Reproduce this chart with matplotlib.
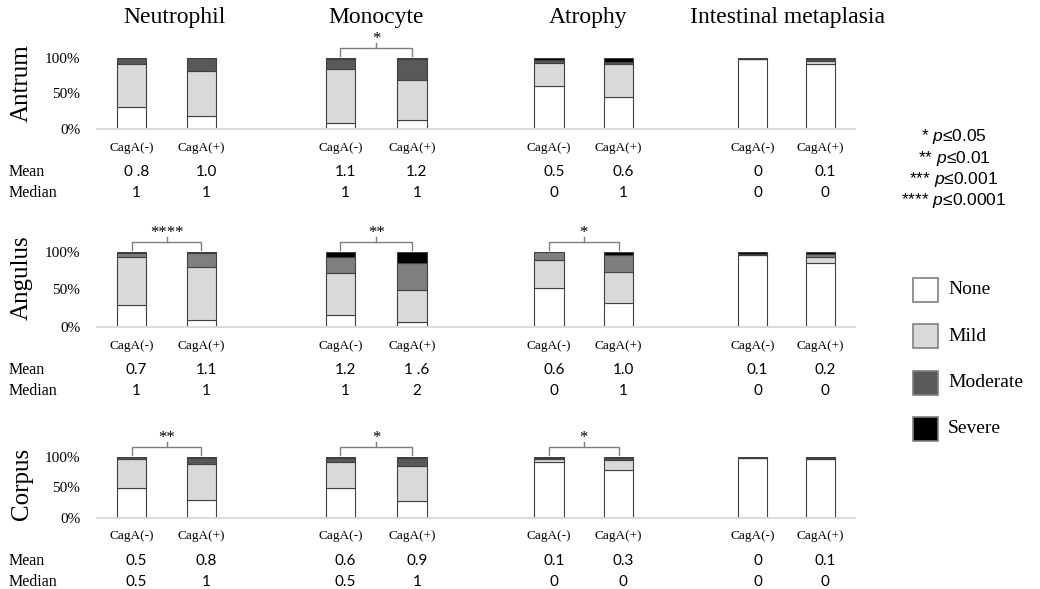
import matplotlib
matplotlib.use("Agg")
import matplotlib.pyplot as plt
import matplotlib.patches as mpatches
from matplotlib.transforms import blended_transform_factory, offset_copy

plt.rcParams["mathtext.fontset"] = "custom"
plt.rcParams["mathtext.it"] = "Liberation Sans:italic"
plt.rcParams["mathtext.rm"] = "Liberation Sans"

SERIF = "Liberation Serif"
NUM = "Lato"

columns = ["Neutrophil", "Monocyte", "Atrophy", "Intestinal metaplasia"]
groups = ["CagA(-)", "CagA(+)"]
rows = ["Antrum", "Angulus", "Corpus"]
grades = ["None", "Mild", "Moderate", "Severe"]

# percent of patients per grade, bars ordered column by column, CagA(-) then CagA(+)
antrum_none = [31, 19, 9, 13, 60, 45, 99, 92]
antrum_mild = [61, 63, 75, 56, 33, 47, 0, 4]
antrum_moderate = [8, 18, 14, 29, 4, 2, 0, 2]
antrum_severe = [0, 0, 2, 2, 3, 6, 1, 2]

angulus_none = [30, 10, 16, 7, 52, 32, 96, 86]
angulus_mild = [64, 70, 56, 42, 37, 42, 0, 7]
angulus_moderate = [5, 19, 22, 37, 11, 22, 1, 5]
angulus_severe = [1, 1, 6, 14, 0, 4, 3, 2]

corpus_none = [50, 30, 50, 28, 91, 78, 99, 96]
corpus_mild = [47, 58, 41, 58, 5, 17, 0, 1]
corpus_moderate = [3, 11, 7, 13, 3, 3, 0, 2]
corpus_severe = [0, 1, 2, 1, 1, 2, 1, 1]

antrum_mean = ["0 .8", "1.0", "1.1", "1.2", "0.5", "0.6", "0", "0.1"]
antrum_median = ["1", "1", "1", "1", "0", "1", "0", "0"]
angulus_mean = ["0.7", "1.1", "1.2", "1 .6", "0.6", "1.0", "0.1", "0.2"]
angulus_median = ["1", "1", "1", "2", "0", "1", "0", "0"]
corpus_mean = ["0.5", "0.8", "0.6", "0.9", "0.1", "0.3", "0", "0.1"]
corpus_median = ["0.5", "1", "0.5", "1", "0", "0", "0", "0"]

# significance per column index
antrum_sig = {1: "*"}
angulus_sig = {0: "****", 1: "**", 2: "*"}
corpus_sig = {0: "**", 1: "*", 2: "*"}

p_legend = ["* $p$≤0.05", "** $p$≤0.01", "*** $p$≤0.001", "**** $p$≤0.0001"]

row_data = [
    (antrum_none, antrum_mild, antrum_moderate, antrum_severe, antrum_mean, antrum_median, antrum_sig),
    (angulus_none, angulus_mild, angulus_moderate, angulus_severe, angulus_mean, angulus_median, angulus_sig),
    (corpus_none, corpus_mild, corpus_moderate, corpus_severe, corpus_mean, corpus_median, corpus_sig),
]

W, H = 1040, 589
fig = plt.figure(figsize=(W / 100, H / 100), dpi=100)

# axes boxes in pixels: (top of 100%, baseline)
row_px = [(58, 129), (252, 327), (457, 518)]
row_label_y = [83, 278, 484]
moderate_colors = ["#595959", "#7f7f7f", "#595959"]
positions = [0, 1, 3, 4.03, 6, 7, 8.93, 9.9]
width = 0.42
ax_left, ax_right = 97, 855

for r, (top, base) in enumerate(row_px):
    none, mild, moderate, severe, mean, median, sig = row_data[r]
    ax = fig.add_axes([ax_left / W, 1 - base / H, (ax_right - ax_left) / W, (base - top) / H])
    colors = ["white", "#d9d9d9", moderate_colors[r], "black"]
    bottom = [0] * len(none)
    for vals, c in zip([none, mild, moderate, severe], colors):
        ax.bar(positions, vals, width, bottom=bottom, color=c, edgecolor="#404040", linewidth=0.8)
        bottom = [b + v for b, v in zip(bottom, vals)]

    ax.set_xlim(-0.5, 10.4)
    ax.set_ylim(0, 100)
    ax.set_yticks([0, 50, 100])
    ax.set_yticklabels(["0%", "50%", "100%"], family=SERIF, fontsize=11)
    ax.set_xticks(positions)
    ax.set_xticklabels(groups * 4, family=SERIF, fontsize=9.5)
    ax.tick_params(axis="both", length=0)
    ax.tick_params(axis="y", pad=12)
    ax.tick_params(axis="x", pad=9)
    for s in ["top", "right", "left"]:
        ax.spines[s].set_visible(False)
    ax.spines["bottom"].set_color("#d9d9d9")
    ax.spines["bottom"].set_linewidth(1.3)

    # mean / median rows
    bt = blended_transform_factory(ax.transData, ax.transAxes)
    t_mean = offset_copy(bt, fig=fig, y=-43 * 0.72, units="points")
    t_med = offset_copy(bt, fig=fig, y=-64 * 0.72, units="points")
    for p, mv, md in zip(positions, mean, median):
        ax.text(p + 0.07, 0, mv, transform=t_mean, ha="center", va="center", family=NUM, fontsize=11)
        ax.text(p + 0.07, 0, md, transform=t_med, ha="center", va="center", family=NUM, fontsize=11)
    fy = 1 - base / H
    fig.text(9 / W, fy - 43 / H, "Mean", family=SERIF, fontsize=11.5, va="center", ha="left")
    fig.text(9 / W, fy - 64 / H, "Median", family=SERIF, fontsize=11.5, va="center", ha="left")

    # significance brackets
    per = (base - top) / 100.0
    for ci, stars in sig.items():
        x0, x1 = positions[2 * ci], positions[2 * ci + 1]
        yb = 100 + 10 / per
        yt = 100 + 2 / per
        ax.plot([x0, x0, x1, x1], [yt, yb, yb, yt], color="#7f7f7f", lw=1.0, clip_on=False)
        xm = (x0 + x1) / 2
        ax.plot([xm, xm], [yb, yb + 5 / per], color="#7f7f7f", lw=1.0, clip_on=False)
        ax.text(xm, yb + 0.5 / per, stars, ha="center", va="bottom", fontsize=12,
                family=SERIF, clip_on=False)

    fig.text(22 / W, 1 - row_label_y[r] / H, rows[r], family=SERIF, fontsize=18,
             rotation=90, ha="center", va="center")

    if r == 0:
        tt = blended_transform_factory(ax.transData, fig.transFigure)
        title_x = [0.61, 3.52, 6.56, 9.43]
        for tx, name in zip(title_x, columns):
            ax.text(tx, 1 - 18 / H, name, transform=tt, family=SERIF, fontsize=17,
                    ha="center", va="center")

# p-value legend
for i, s in enumerate(p_legend):
    fig.text(954 / W, 1 - (137 + 21.3 * i) / H, s, ha="center", va="center",
             family="Liberation Sans", fontsize=12.5)

# grade legend
leg_colors = ["white", "#d9d9d9", "#595959", "black"]
for i, (g, c) in enumerate(zip(grades, leg_colors)):
    yc = 290 + 46.3 * i
    rect = mpatches.Rectangle((913 / W, 1 - (yc + 12) / H), 25 / W, 24 / H,
                              transform=fig.transFigure, facecolor=c, edgecolor="#7f7f7f", linewidth=1.2)
    fig.add_artist(rect)
    fig.text(948 / W, 1 - yc / H, g, family=SERIF, fontsize=14, ha="left", va="center")

fig.savefig("out.png", dpi=100)
